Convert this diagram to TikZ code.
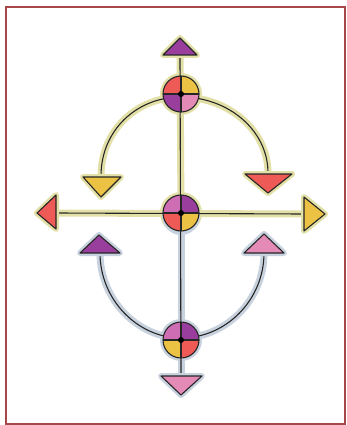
\documentclass[tikz,border=0pt]{standalone}
\usetikzlibrary{calc}
\definecolor{frame}{HTML}{A8474A}
\definecolor{haloY}{HTML}{E2E0A6}
\definecolor{haloB}{HTML}{C8D2DE}
\definecolor{cPurple}{HTML}{9A3E9E}
\definecolor{cPink}{HTML}{E38AB6}
\definecolor{cMag}{HTML}{CF6DB4}
\definecolor{cRed}{HTML}{EE5A55}
\definecolor{cYellow}{HTML}{EBC244}
\tikzset{
  ink/.style={draw=black!85, line width=1.1pt, line join=round},
  haloline/.style={line width=7pt, line cap=round, line join=round},
  halotri/.style={line width=6pt, line join=round},
}
\newcommand{\tri}[5]{% a b c fill halo
  \filldraw[#5, halotri] #1 -- #2 -- #3 -- cycle;
  \filldraw[ink, fill=#4] #1 -- #2 -- #3 -- cycle;
}
\begin{document}
\begin{tikzpicture}[x=1pt,y=-1pt]
\useasboundingbox (0,0) rectangle (346,425);
\fill[white] (0,0) rectangle (346,425);
\draw[frame, line width=2pt] (6,7) rectangle (345,424);

% key coordinates
\coordinate (T) at (181,94);
\coordinate (M) at (181,213);
\coordinate (B) at (181,340);
\coordinate (tipT) at (180,55);
\coordinate (tipB) at (181,376);
\coordinate (tipL) at (56,213);
\coordinate (tipR) at (304,214);
\coordinate (ulE) at (101,176);
\coordinate (urE) at (268,173);
\coordinate (llE) at (100,253);
\coordinate (lrE) at (264,253);

% halos
\draw[haloY, haloline] (tipL) -- (tipR);
\draw[haloY, haloline] (tipT) -- (M);
\draw[haloB, haloline] (M) -- (tipB);
\draw[haloY, haloline] (ulE) .. controls (101,130) and (137,97) .. (181,97)
   .. controls (228,97) and (268,130) .. (urE);
\draw[haloB, haloline] (llE) .. controls (100,300) and (138,338) .. (181,338)
   .. controls (226,338) and (264,300) .. (lrE);
\fill[haloY] (T) circle (21);
\fill[haloY] (M) circle (21);
\fill[haloB] ($(M)+(0,3)$) circle (19);
\fill[haloB] (B) circle (21);

% lines
\draw[ink] (tipL) -- (tipR);
\draw[ink] (tipT) -- (tipB);
\draw[ink] (ulE) .. controls (101,130) and (137,97) .. (181,97)
   .. controls (228,97) and (268,130) .. (urE);
\draw[ink] (llE) .. controls (100,300) and (138,338) .. (181,338)
   .. controls (226,338) and (264,300) .. (lrE);

% arrowheads
\tri{(163,55)}{(197,55)}{(180,38)}{cPurple}{haloY}
\tri{(161,376)}{(202,376)}{(181,395)}{cPink}{haloB}
\tri{(56,195)}{(56,229)}{(37,213)}{cRed}{haloY}
\tri{(304,197)}{(304,231)}{(325,214)}{cYellow}{haloY}
\tri{(83,177)}{(121,177)}{(101,197)}{cYellow}{haloY}
\tri{(245,174)}{(292,174)}{(268,193)}{cRed}{haloY}
\tri{(80,253)}{(120,253)}{(99,235)}{cPurple}{haloB}
\tri{(244,253)}{(284,253)}{(264,234)}{cPink}{haloB}

% circles: quadrants tl, tr, bl, br (y axis points down)
\foreach \c/\tl/\tr/\bl/\br in {T/cRed/cYellow/cPurple/cPink, M/cMag/cPurple/cRed/cYellow, B/cMag/cPurple/cYellow/cRed}{
  \begin{scope}
    \clip (\c) circle (18);
    \fill[\tl] (\c) rectangle ++(-20,-20);
    \fill[\tr] (\c) rectangle ++(20,-20);
    \fill[\bl] (\c) rectangle ++(-20,20);
    \fill[\br] (\c) rectangle ++(20,20);
  \end{scope}
  \draw[ink] (\c) circle (18);
  \draw[ink] ($(\c)+(-18,0)$) -- ($(\c)+(18,0)$);
  \draw[ink] ($(\c)+(0,-18)$) -- ($(\c)+(0,18)$);
  \fill[black] (\c) circle (3);
}
\end{tikzpicture}
\end{document}
